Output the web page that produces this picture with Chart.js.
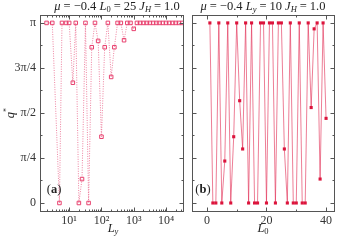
<!DOCTYPE html>
<html><head><meta charset="utf-8">
<script src="https://cdn.jsdelivr.net/npm/chart.js@4/dist/chart.umd.min.js"></script>
<style>
html,body{margin:0;padding:0;background:#fff;}
#wrap{position:relative;width:341px;height:240px;overflow:hidden;font-family:"Liberation Serif","DejaVu Serif",serif;color:#222;}
.cv{position:absolute;top:0;}
.t{position:absolute;transform:translate(-50%,-50%);white-space:nowrap;font-size:12.5px;line-height:1;}
.t sub{font-size:8.5px;vertical-align:-2px;}
.eq{margin:0 3px;}
</style></head><body>
<div id="wrap">
  <div class="cv" style="left:0;width:189px;height:240px;"><canvas id="ca"></canvas></div>
  <div class="cv" style="left:188px;width:153px;height:240px;"><canvas id="cb"></canvas></div>
  <div class="t" style="left:117px;top:7px;"><i>μ</i><span class="eq">=</span>−0.4 <i>L</i><sub>0</sub><span class="eq">=</span>25 <i>J<sub>H</sub></i><span class="eq">=</span>1.0</div>
  <div class="t" style="left:263px;top:7px;"><i>μ</i><span class="eq">=</span>−0.4 <i>L<sub>y</sub></i><span class="eq">=</span>10 <i>J<sub>H</sub></i><span class="eq">=</span>1.0</div>
  <div class="t" style="left:113px;top:229px;"><i>L<sub>y</sub></i></div>
  <div class="t" style="left:263px;top:229px;"><i>L</i><sub>0</sub></div>
  <div class="t" style="left:10px;top:113px;transform:translate(-50%,-50%) rotate(-90deg);"><i>q</i><sup style="font-size:8px">*</sup></div>
  <div class="t" style="left:54px;top:189px;">(<b>a</b>)</div>
  <div class="t" style="left:203px;top:189px;">(<b>b</b>)</div>
</div>
<script>
// ---- data (q* in units of pi) ----
const LyValues = [2,3,5,6,8,10,13,16,20,25,32,40,50,63,79,100,126,158,200,251,316,398,501,631,794,1000,1259,1585,1995,2512,3162,3981,5012,6310,7943,10000,12589,15849,19953,25119,31623];
const qA = [1,1,0,1,1,1,0.668,1,0,0.133,1,0,0.865,1,0.9,0.368,0.865,1,0.7,0.865,1,1,0.904,1,1,0.967,1,1,1,1,1,1,1,1,1,1,1,1,1,1,1];
const L0Values = [1,2,3,4,5,6,7,8,9,10,11,12,13,14,15,16,17,18,19,20,21,22,23,24,25,26,27,28,29,30,31,32,33,34,35,36,37,38,39,40];
const qB = [1,0,0,1,0,0.233,1,0,0.368,1,0.568,0.3,1,0,1,0,0,1,1,0,1,1,0,1,1,0.3,0,1,0,0,1,0,0,1,0.53,0.967,1,0.133,1,0.47];
// ---- ticks ----
const yTickValues = [0,0.25,0.5,0.75,1];
const yTickLabels = ['0','π/4','π/2','3π/4','π'];
const yMinorValues = [0.125,0.375,0.625,0.875];
const xLogMajor = [10,100,1000,10000];
const xLogLabels = ['10¹','10²','10³','10⁴'];
const xLogMinor = [];
[1,10,100,1000,10000].forEach(d=>{for(let k=2;k<=9;k++){const v=d*k; if(v>1.25&&v<36000) xLogMinor.push(v);}});
const xLinMajor = [0,20,40];
const xLinMinor = [10,30];

const frameCol = '#555';
const inwardTicks = {
  id:'inwardTicks',
  afterDraw(chart, args, o){
    const {ctx, chartArea:a, scales} = chart;
    const L=Math.round(a.left)+0.5, R=Math.round(a.right)-0.5, T=Math.round(a.top)+0.5, B=Math.round(a.bottom)-0.5;
    ctx.save();
    ctx.strokeStyle=frameCol; ctx.lineWidth=1;
    ctx.strokeRect(L,T,R-L,B-T);
    const seg=(x1,y1,x2,y2)=>{ctx.beginPath();ctx.moveTo(x1,y1);ctx.lineTo(x2,y2);ctx.stroke();};
    const xs=scales.x, ys=scales.y;
    const xt=(vals,len)=>vals.forEach(v=>{const p=Math.round(xs.getPixelForValue(v))+0.5; if(p<L||p>R) return; seg(p,B,p,B-len); seg(p,T,p,T+len);});
    const yt=(vals,len)=>vals.forEach(v=>{const p=Math.round(ys.getPixelForValue(v))+0.5; seg(L,p,L+len,p); seg(R,p,R-len,p);});
    xt(o.xMajor,4); xt(o.xMinor,2); yt(o.yMajor,4); yt(o.yMinor,2);
    ctx.restore();
  }
};

const fontTick = {family:'"Liberation Serif","DejaVu Serif",serif', size:12};

function yScale(showLabels){
  return {
    display: showLabels,
    min:-0.05, max:1.044,
    afterBuildTicks:s=>{s.ticks=yTickValues.map(v=>({value:v}));},
    afterFit:s=>{s.width=40;},
    grid:{display:false, drawTicks:false},
    border:{display:false},
    ticks:{padding:4, color:'#333', font:fontTick, callback:(v)=>{const i=yTickValues.indexOf(v);return i>=0?yTickLabels[i]:'';}}
  };
}

new Chart(document.getElementById('ca'), {
  type:'line',
  data:{datasets:[{
    data: LyValues.map((x,i)=>({x, y:qA[i]})),
    borderColor:'rgba(232,90,130,0.75)', borderWidth:1, borderDash:[1,1.4],
    pointStyle:'rect', pointRadius:2.5, pointBorderWidth:1,
    pointBorderColor:'#e8406e', pointBackgroundColor:'rgba(255,255,255,0)',
    tension:0, fill:false
  }]},
  options:{
    responsive:true, maintainAspectRatio:false, animation:false,
    layout:{padding:{top:15,right:0,left:0,bottom:0}},
    plugins:{legend:{display:false}, tooltip:{enabled:false},
      inwardTicks:{xMajor:xLogMajor, xMinor:xLogMinor, yMajor:yTickValues, yMinor:yMinorValues}},
    scales:{
      x:{type:'logarithmic', min:1.25, max:36000,
        afterBuildTicks:s=>{s.ticks=xLogMajor.map(v=>({value:v}));},
        afterFit:s=>{s.height=28;},
        grid:{display:false, drawTicks:false}, border:{display:false},
        ticks:{padding:2, color:'#333', font:fontTick, maxRotation:0, autoSkip:false,
          callback:(v)=>{const i=xLogMajor.indexOf(v);return i>=0?xLogLabels[i]:'';}}},
      y:yScale(true)
    }
  },
  plugins:[inwardTicks]
});

new Chart(document.getElementById('cb'), {
  type:'line',
  data:{datasets:[{
    data: L0Values.map((x,i)=>({x, y:qB[i]})),
    borderColor:'rgba(225,40,80,0.6)', borderWidth:1,
    pointStyle:'rect', pointRadius:2.2, pointBorderWidth:0,
    pointBorderColor:'#dc143c', pointBackgroundColor:'#dc143c',
    tension:0, fill:false
  }]},
  options:{
    responsive:true, maintainAspectRatio:false, animation:false,
    layout:{padding:{top:15,right:6,left:1,bottom:0}},
    plugins:{legend:{display:false}, tooltip:{enabled:false},
      inwardTicks:{xMajor:xLinMajor, xMinor:xLinMinor, yMajor:yTickValues, yMinor:yMinorValues}},
    scales:{
      x:{type:'linear', min:-5, max:43,
        afterBuildTicks:s=>{s.ticks=xLinMajor.map(v=>({value:v}));},
        afterFit:s=>{s.height=28;},
        grid:{display:false, drawTicks:false}, border:{display:false},
        ticks:{padding:2, color:'#333', font:fontTick, maxRotation:0, autoSkip:false}},
      y:{display:false, min:-0.05, max:1.044}
    }
  },
  plugins:[inwardTicks]
});
</script>
</body></html>
